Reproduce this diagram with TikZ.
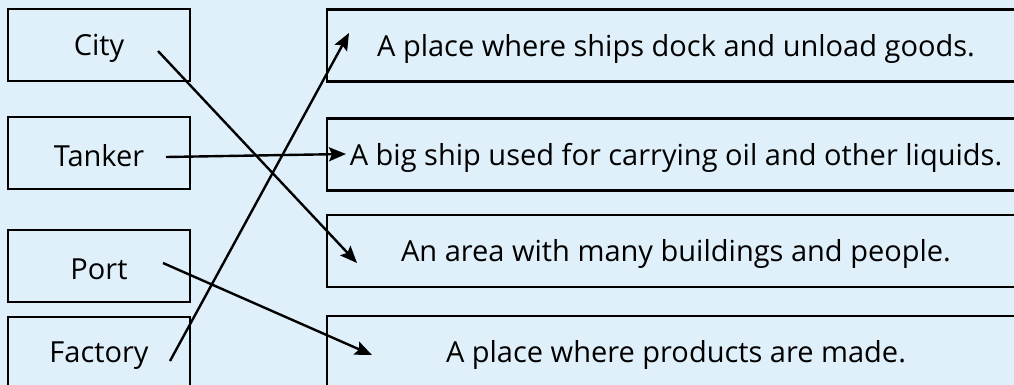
\documentclass[tikz,border=0pt]{standalone}
\usepackage{fontspec}
\setmainfont{Open Sans}
\usetikzlibrary{arrows.meta}
\definecolor{bgblue}{HTML}{DFF0FA}
\begin{document}
\begin{tikzpicture}[x=1pt,y=-1pt,
  box/.style={draw=black,line width=2.4pt,fill=bgblue,rectangle,inner sep=0pt},
  leftbox/.style={box,minimum width=182pt,minimum height=72pt},
  rightbox/.style={box,minimum width=733pt,minimum height=72pt},
  lbl/.style={font=\fontsize{29}{34}\selectfont,inner sep=0pt},
  link/.style={line width=2.4pt,-{Stealth[length=17pt,width=14pt,inset=3pt]}}]
\useasboundingbox (0,0) rectangle (1014,385);
\clip (0,0) rectangle (1014,385);
\fill[bgblue] (0,0) rectangle (1014,385);
% left column
\node[leftbox] (city) at (99,45) {};
\node[leftbox] (tanker) at (99,153) {};
\node[leftbox] (port) at (99,266) {};
\node[leftbox] (factory) at (99,353) {};
\node[lbl] (cityT) at ([yshift=-3pt]city.center) {City};
\node[lbl] (tankerT) at ([yshift=-3pt]tanker.center) {Tanker};
\node[lbl] (portT) at ([yshift=-3pt]port.center) {Port};
\node[lbl] (factoryT) at ([yshift=-3pt]factory.center) {Factory};
% right column (boxes run past the right edge)
\node[rightbox] (dock) at (693.5,45.5) {};
\node[rightbox] (ship) at (693.5,154.5) {};
\node[rightbox] (area) at (693.5,251) {};
\node[rightbox] (made) at (693.5,352) {};
\node[lbl] (dockT) at (676,48.5) {A place where ships dock and unload goods.};
\node[lbl] (shipT) at (676,157.5) {A big ship used for carrying oil and other liquids.};
\node[lbl] (areaT) at (676,254) {An area with many buildings and people.};
\node[lbl] (madeT) at (676,355) {A place where products are made.};
% connector ends
\coordinate (cityS) at (158,51);
\coordinate (tankerS) at (166,157);
\coordinate (portS) at (163,263);
\coordinate (factoryS) at (170,361);
\coordinate (dockE) at (349,33);
\coordinate (shipE) at (346,154);
\coordinate (areaE) at (357,263);
\coordinate (madeE) at (372,355);
\draw[link] (cityS) -- (areaE);
\draw[link] (tankerS) -- (shipE);
\draw[link] (portS) -- (madeE);
\draw[link] (factoryS) -- (dockE);
\end{tikzpicture}
\end{document}
